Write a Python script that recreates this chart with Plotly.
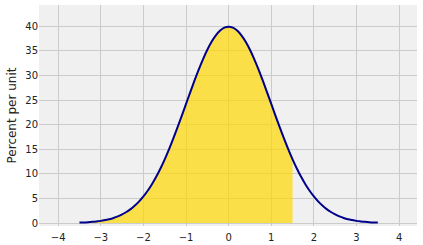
import plotly.graph_objects as go

# z values and percent-per-unit heights
z = [round(-3.5 + 0.1 * i, 1) for i in range(71)]
half = [39.89, 39.70, 39.10, 38.14, 36.83, 35.21, 33.32, 31.23, 28.97, 26.61,
        24.20, 21.79, 19.42, 17.14, 14.97, 12.95, 11.09, 9.40, 7.90, 6.56,
        5.40, 4.40, 3.55, 2.83, 2.24, 1.75, 1.36, 1.04, 0.79, 0.60,
        0.44, 0.33, 0.24, 0.17, 0.12, 0.09]
pct = half[::-1][:-1] + half
shade_to = 1.5
x_ticks = [-4, -3, -2, -1, 0, 1, 2, 3, 4]
y_ticks = [0, 5, 10, 15, 20, 25, 30, 35, 40]

zs = [v for v in z if v <= shade_to + 1e-9]
ps = pct[:len(zs)]

fig = go.Figure()
fig.add_trace(go.Scatter(x=zs, y=ps, mode="lines", line=dict(width=0, shape="spline"),
                         fill="tozeroy", fillcolor="rgba(255,215,0,0.7)", hoverinfo="skip"))
fig.add_trace(go.Scatter(x=z, y=pct, mode="lines",
                         line=dict(color="#00008B", width=2, shape="spline")))

fig.update_layout(
    width=423, height=245, margin=dict(l=39, r=6, t=5, b=19),
    paper_bgcolor="white", plot_bgcolor="#f0f0f0", showlegend=False,
    font=dict(family="DejaVu Sans", size=10, color="#222"),
)
fig.update_xaxes(range=[-4.45, 4.42], tickvals=x_ticks,
                 ticktext=["\u2212" + str(-t) if t < 0 else str(t) for t in x_ticks],
                 showgrid=True, gridcolor="#cbcbcb", gridwidth=1, zeroline=False,
                 showline=False, ticks="outside", ticklen=2, tickcolor="rgba(0,0,0,0)",
                 tickfont=dict(size=10), automargin=False)
fig.update_yaxes(range=[-0.6, 44.3], tickvals=y_ticks, showgrid=True, gridcolor="#cbcbcb",
                 gridwidth=1, zeroline=False, showline=False, ticks="",
                 title=dict(text="Percent per unit", font=dict(size=12), standoff=6),
                 tickfont=dict(size=10), automargin=False)

fig.write_html("out.html")
